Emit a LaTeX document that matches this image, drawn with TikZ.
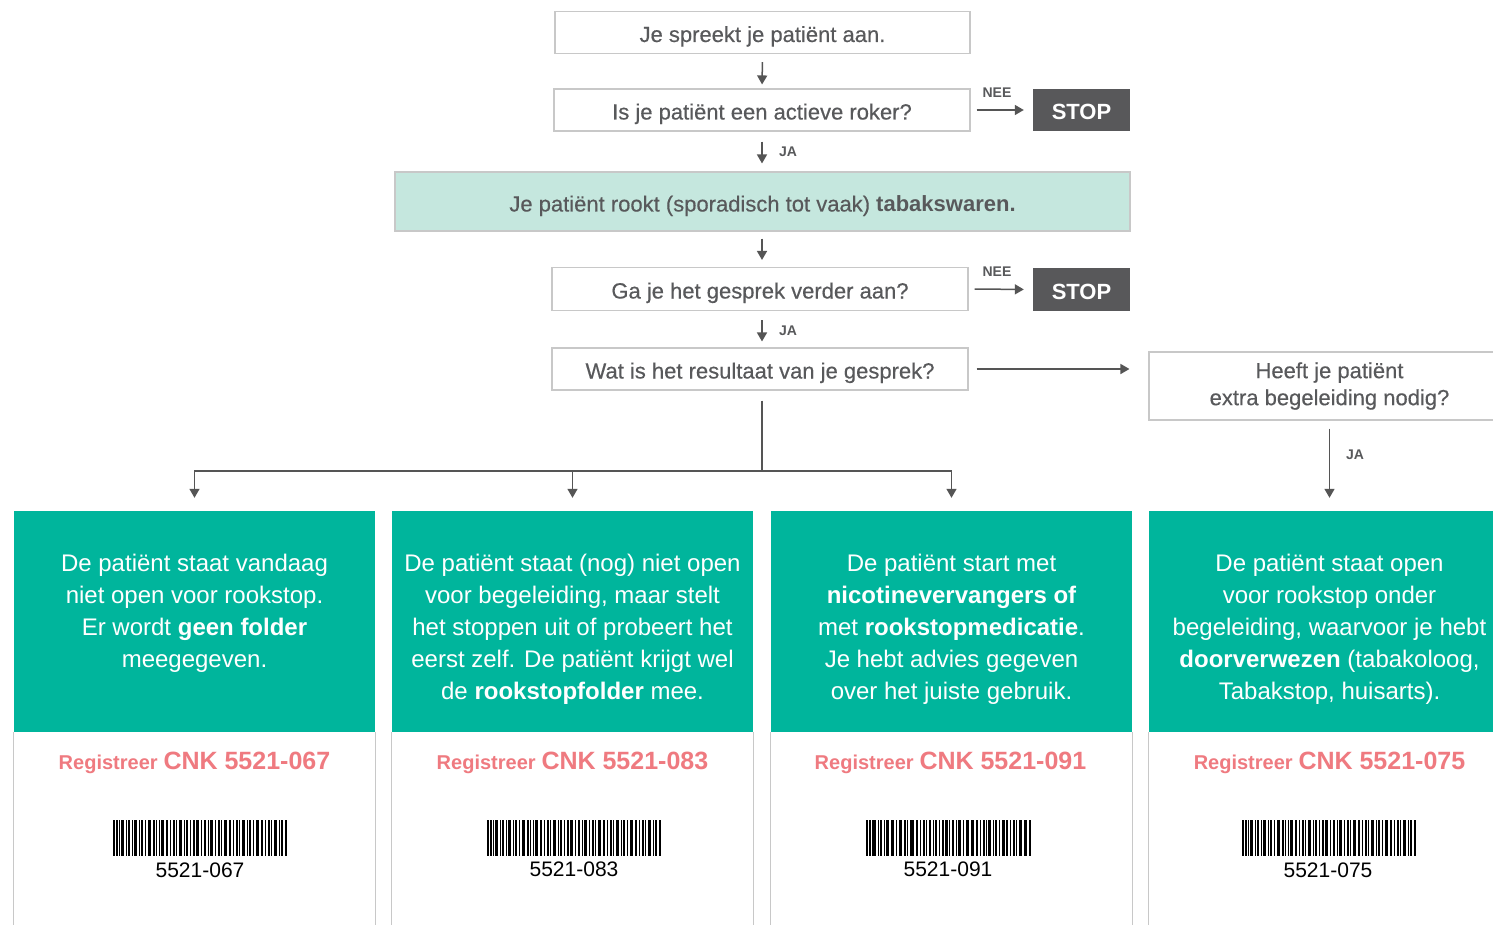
\documentclass[tikz,border=0pt]{standalone}
\usepackage{fontspec}
\setmainfont{Liberation Sans}
\newfontfamily\boxfont[UprightFeatures={FakeBold=0.4}]{Liberation Sans}
\usetikzlibrary{arrows.meta}
\definecolor{txt}{HTML}{58595B}
\definecolor{tealc}{HTML}{00B59C}
\definecolor{mint}{HTML}{C5E7DE}
\definecolor{pinkc}{HTML}{EF7A80}
\definecolor{bord}{HTML}{C8C8C8}
\definecolor{stopg}{HTML}{58585A}
\definecolor{arrc}{HTML}{555555}
\begin{document}
\begin{tikzpicture}[x=1pt,y=-1pt,
  qbox/.style={draw=bord, line width=1.1pt, fill=white, minimum width=#1, minimum height=42pt, inner sep=0pt, text=txt, font=\boxfont\fontsize{22}{27}\selectfont, align=center, text height=19pt, text depth=0pt},
  qbox2/.style={draw=bord, line width=1.1pt, fill=white, minimum width=#1, minimum height=68pt, inner sep=0pt, text=txt, font=\boxfont\fontsize{22}{27}\selectfont, align=center},
  stopbox/.style={fill=stopg, minimum width=97pt, minimum height=42pt, inner sep=0pt, text=white, font=\fontsize{22}{26}\selectfont\bfseries, text height=19pt, text depth=0pt},
  arr/.style={draw=arrc, line width=1.5pt, -{Triangle[length=9pt,width=10pt]}},
  plainline/.style={draw=arrc, line width=1.5pt},
  lab/.style={text=txt, font=\fontsize{14}{16}\selectfont\bfseries, inner sep=0pt},
  card/.style={fill=tealc, minimum width=361pt, minimum height=221pt, inner sep=0pt},
  cardtext/.style={text=white, font=\fontsize{24}{32}\selectfont, align=center, inner sep=0pt, anchor=north},
  cardside/.style={draw=bord, line width=1.2pt},
  reg/.style={text=pinkc, font=\fontsize{21}{25}\selectfont\bfseries, inner sep=0pt},
  bcnum/.style={text=black, font=\fontsize{21}{24}\selectfont, inner sep=0pt},
  barcode/.pic={
    \foreach \a/\b in {0/2, 3/2, 6/1, 8/3, 13/1, 15/2, 19/1, 21/3, 26/1, 28/2, 32/1, 35/3, 40/2, 43/1, 46/1, 48/3, 53/2, 57/1, 60/2, 63/1, 66/3, 71/1, 73/2, 77/1, 80/2, 83/3, 88/1, 91/2, 95/1, 97/3, 102/1, 105/2, 108/1, 111/3, 116/2, 120/1, 123/2, 126/1, 129/3, 134/1, 136/2, 140/1, 143/3, 148/2, 152/1, 155/2, 158/1, 161/3, 166/1, 168/2, 172/2}
      \fill[black] (\a-87,-18) rectangle (\a+\b-87,18);
  }
]
\useasboundingbox (0,0) rectangle (1493,925);
\fill[white] (0,0) rectangle (1493,925);

% question boxes
\node[qbox=415pt] (q1) at (762.5,32.5) {Je spreekt je patiënt aan.};
\node[qbox=416pt] (q2) at (762,110) {Is je patiënt een actieve roker?};
\node[stopbox] (s1) at (1081.5,110) {STOP};
\node[qbox=735pt, fill=mint, minimum height=59pt, text height=20pt] (m) at (762.5,201.5) {Je patiënt rookt (sporadisch tot vaak) \textbf{tabakswaren.}};
\node[qbox=416pt, minimum height=43pt] (q3) at (760,289) {Ga je het gesprek verder aan?};
\node[stopbox, minimum height=43pt] (s2) at (1081.5,289.5) {STOP};
\node[qbox=416pt] (q4) at (760,369) {Wat is het resultaat van je gesprek?};
\node[qbox2=361pt] (q5) at (1329.5,386) {Heeft je patiënt\\extra begeleiding nodig?};

% arrows top
\draw[arr, shorten <=8pt, shorten >=4pt] (q1.south) -- (q2.north);
\draw[arr, shorten <=10pt, shorten >=8pt] (q2.south) -- (q2.south |- m.north);
\node[lab] (ja1) at (788,152) {JA};
\draw[arr, shorten <=6pt, shorten >=9pt] (q2.east) -- (s1.west);
\node[lab] (nee1) at (997,93) {NEE};
\draw[arr, shorten <=7pt, shorten >=7pt] (q2.south |- m.south) -- (q3.north -| q2.south);
\draw[arr, shorten <=6pt, shorten >=9pt] (q3.east) -- (s2.west);
\node[lab] (nee2) at (997,272) {NEE};
\draw[arr, shorten <=9pt, shorten >=6pt] (q2.south |- q3.south) -- (q2.south |- q4.north);
\node[lab] (ja2) at (788,331) {JA};
\draw[arr, shorten <=8pt, shorten >=19pt] (q4.east) -- (q4.east -| q5.west);

% cards
\node[card] (g1) at (194.5,621.5) {};
\node[card] (g2) at (572.5,621.5) {};
\node[card] (g3) at (951.5,621.5) {};
\node[card] (g4) at (1329.5,621.5) {};
\node[cardtext] (t1) at (194.5,554) {De patiënt staat vandaag\\niet open voor rookstop.\\Er wordt \textbf{geen folder}\\meegegeven.};
\node[cardtext] (t2) at (572.5,554) {De patiënt staat (nog) niet open\\voor begeleiding, maar stelt\\het stoppen uit of probeert het\\eerst zelf. De patiënt krijgt wel\\de \textbf{rookstopfolder} mee.};
\node[cardtext] (t3) at (951.5,554) {De patiënt start met\\\textbf{nicotinevervangers of}\\met \textbf{rookstopmedicatie}.\\Je hebt advies gegeven\\over het juiste gebruik.};
\node[cardtext] (t4) at (1329.5,554) {De patiënt staat open\\voor rookstop onder\\begeleiding, waarvoor je hebt\\\textbf{doorverwezen} (tabakoloog,\\Tabakstop, huisarts).};

\foreach \g in {g1,g2,g3,g4}{
  \draw[cardside] (\g.south west) -- ++(0,200);
  \draw[cardside] (\g.south east) -- ++(0,200);
}

% branch connectors
\coordinate (br) at (762,471);
\draw[plainline] ([shift={(0,10)}]q4.south -| br) -- (br);
\draw[arr, shorten >=13pt] (br) -| (g1.north);
\draw[arr, shorten >=13pt] (br) -| (g3.north);
\draw[arr, shorten >=13pt] (br -| g2.north) -- (g2.north);
\draw[arr, shorten <=8pt, shorten >=13pt] (q5.south) -- (g4.north);
\node[lab] (ja3) at (1355,455) {JA};

% register labels
\node[reg] (r1) at (194.5,763) {{\fontsize{20}{24}\selectfont Registreer} {\fontsize{25}{28}\selectfont CNK 5521-067}};
\node[reg] (r2) at (572.5,763) {{\fontsize{20}{24}\selectfont Registreer} {\fontsize{25}{28}\selectfont CNK 5521-083}};
\node[reg] (r3) at (950.5,763) {{\fontsize{20}{24}\selectfont Registreer} {\fontsize{25}{28}\selectfont CNK 5521-091}};
\node[reg] (r4) at (1329.5,763) {{\fontsize{20}{24}\selectfont Registreer} {\fontsize{25}{28}\selectfont CNK 5521-075}};

% barcodes
\pic at (200,838) {barcode};
\pic at (573.5,838) {barcode};
\pic[xscale=0.95] at (948.5,838) {barcode};
\pic at (1328.5,838) {barcode};
\node[bcnum] (b1) at (200,870) {5521-067};
\node[bcnum] (b2) at (574,869) {5521-083};
\node[bcnum] (b3) at (948,869) {5521-091};
\node[bcnum] (b4) at (1328,870) {5521-075};
\end{tikzpicture}
\end{document}
